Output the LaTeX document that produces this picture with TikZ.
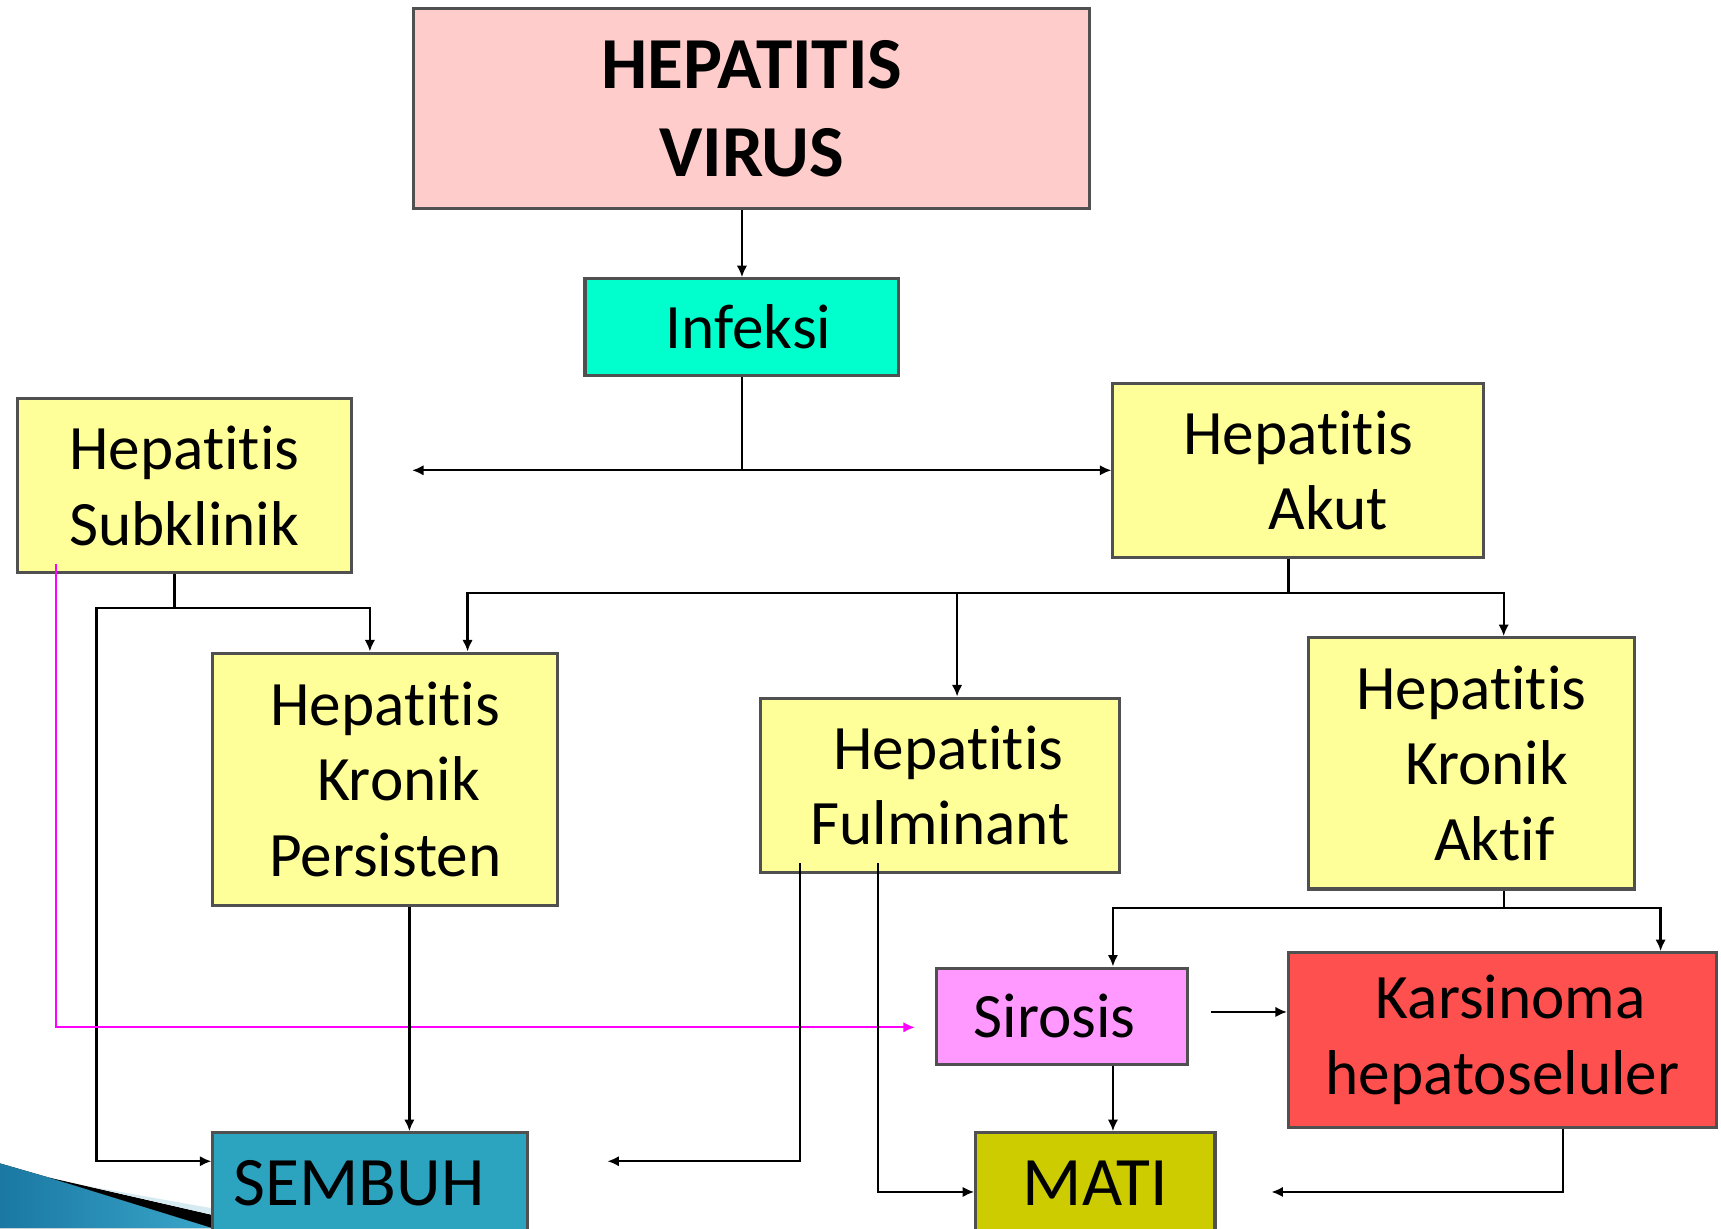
\documentclass[tikz,border=0pt]{standalone}
\usepackage{fontspec}
\setmainfont[Ligatures=NoCommon,RawFeature=-liga,RawFeature=-clig,RawFeature=-calt,RawFeature=-dlig]{Carlito}
\usetikzlibrary{arrows.meta}
\definecolor{virus-pink}{HTML}{FFCCCC}
\definecolor{infeksi-cyan}{HTML}{00FFCC}
\definecolor{hep-yellow}{HTML}{FFFF99}
\definecolor{sirosis-pink}{HTML}{FF99FF}
\definecolor{karsinoma-red}{HTML}{FF5050}
\definecolor{sembuh-blue}{HTML}{2CA3BF}
\definecolor{mati-olive}{HTML}{CCCC00}
\definecolor{box-edge}{HTML}{505050}
\definecolor{sub-magenta}{HTML}{FF00FF}
\definecolor{swoosh-dark}{HTML}{1A78A2}
\definecolor{swoosh-light}{HTML}{3AA6CA}
\definecolor{swoosh-pale}{HTML}{D6EAF2}

\begin{document}
\begin{tikzpicture}[x=0.1mm, y=-0.1mm,
    every node/.style={font=\fontsize{16.4}{19.6}\selectfont},
    box/.style={draw=box-edge, line width=0.8pt, align=center, inner sep=0pt},
    hepbox/.style={box, fill=hep-yellow},
    link/.style={line width=0.6pt, -{Latex[length=1.05mm,width=0.95mm]}},
    bare/.style={line width=0.6pt}]
    \useasboundingbox (0,0) rectangle (1568,1119);
    \clip (0,0) rectangle (1568,1119);
    \fill[left color=swoosh-dark, right color=swoosh-light]
      (0,1060) -- (45,1073) -- (194,1119) -- (0,1119) -- cycle;
    \fill[black] (45,1073) -- (194,1107) -- (194,1119) -- cycle;
    \fill[swoosh-pale] (82,1081) -- (194,1101) -- (194,1107) -- cycle;

    \node[box, fill=virus-pink, minimum width=61.6mm, minimum height=18.2mm,
      font=\fontsize{19}{22.7}\selectfont\bfseries] (virus) at (685,99) {HEPATITIS\\VIRUS};
    \node[box, fill=infeksi-cyan, minimum width=28.6mm, minimum height=8.8mm]
      (infeksi) at (676,298) {\hspace*{1.2mm}Infeksi};
    \node[hepbox, minimum width=30.4mm, minimum height=15.9mm]
      (subklinik) at (168,442.5) {Hepatitis\\Subklinik};
    \node[hepbox, minimum width=33.8mm, minimum height=15.9mm]
      (akut) at (1183,428.5) {Hepatitis\\\hspace*{5.4mm}Akut};
    \node[hepbox, minimum width=31.4mm, minimum height=23mm]
      (persisten) at (351,710) {Hepatitis\\\hspace*{2.4mm}Kronik\\Persisten};
    \node[hepbox, minimum width=32.7mm, minimum height=15.9mm]
      (fulminant) at (856.5,715.5) {\hspace*{1.5mm}Hepatitis\\Fulminant};
    \node[hepbox, minimum width=29.7mm, minimum height=22.9mm]
      (aktif) at (1340.5,695.5) {Hepatitis\\\hspace*{2.8mm}Kronik\\\hspace*{4.2mm}Aktif};
    \node[box, fill=sirosis-pink, minimum width=22.9mm, minimum height=8.8mm]
      (sirosis) at (967.5,926) {Sirosis\hspace*{1.3mm}};
    \node[box, fill=karsinoma-red, minimum width=39mm, minimum height=15.9mm]
      (karsinoma) at (1369,947.5) {\hspace*{1.5mm}Karsinoma\\hepatoseluler};
    \node[box, fill=sembuh-blue, minimum width=28.7mm, minimum height=9.2mm,
      font=\fontsize{18}{21}\selectfont] (sembuh) at (337.5,1078) {SEMBUH\hspace*{2.1mm}};
    \node[box, fill=mati-olive, minimum width=21.8mm, minimum height=9.2mm,
      font=\fontsize{18}{21}\selectfont] (mati) at (998,1078) {MATI};

    \coordinate (akbus) at (1174,540);
    \coordinate (skbus) at (159,554);
    \coordinate (skleft) at (88,554);
    \coordinate (akfbus) at (1370,827);

    \draw[link] (virus.south -| infeksi.north) -- (infeksi.north);
    \draw[link] (infeksi.south) -- (infeksi.south |- akut.west) -- (akut.west);
    \draw[link] (infeksi.south |- akut.west) -- ([xshift=5.4mm]subklinik.east |- akut.west);

    \draw[bare] (akbus |- akut.south) -- (akbus);
    \draw[link] (akbus) -| ([xshift=7.5mm]persisten.north);
    \draw[link] (akbus) -| ([xshift=1.55mm]fulminant.north);
    \draw[link] (akbus) -| ([xshift=2.95mm]aktif.north);

    \draw[bare] (skbus |- subklinik.south) -- (skbus);
    \draw[link] (skbus) -| ([xshift=-1.4mm]persisten.north);
    \draw[link] (skbus) -- (skleft) |- ([yshift=2mm]sembuh.west);
    \draw[link, sub-magenta] ([xshift=-11.7mm,yshift=1mm]subklinik.south)
      |- ([xshift=-1.8mm,yshift=-1mm]sirosis.west);

    \draw[link] ([xshift=2.2mm]persisten.south) -- ([xshift=2.2mm]persisten.south |- sembuh.north);
    \draw[link] ([xshift=-12.75mm,yshift=1mm]fulminant.south) |- ([xshift=7.1mm,yshift=2mm]sembuh.east);
    \draw[link] ([xshift=-5.65mm,yshift=1mm]fulminant.south) |- ([yshift=-0.8mm]mati.west);

    \draw[bare] (akfbus |- aktif.south) -- (akfbus);
    \draw[link] (akfbus) -| ([xshift=4.65mm]sirosis.north);
    \draw[link] (akfbus) -| ([xshift=14.4mm]karsinoma.north);

    \draw[link] ([xshift=2mm,yshift=0.4mm]sirosis.east) -- ([yshift=0.4mm]sirosis.east -| karsinoma.west);
    \draw[link] ([xshift=4.65mm]sirosis.south) -- ([xshift=4.65mm]sirosis.south |- mati.north);
    \draw[link] ([xshift=5.5mm]karsinoma.south) |- ([xshift=5mm,yshift=-0.8mm]mati.east);
  \end{tikzpicture}
\end{document}
